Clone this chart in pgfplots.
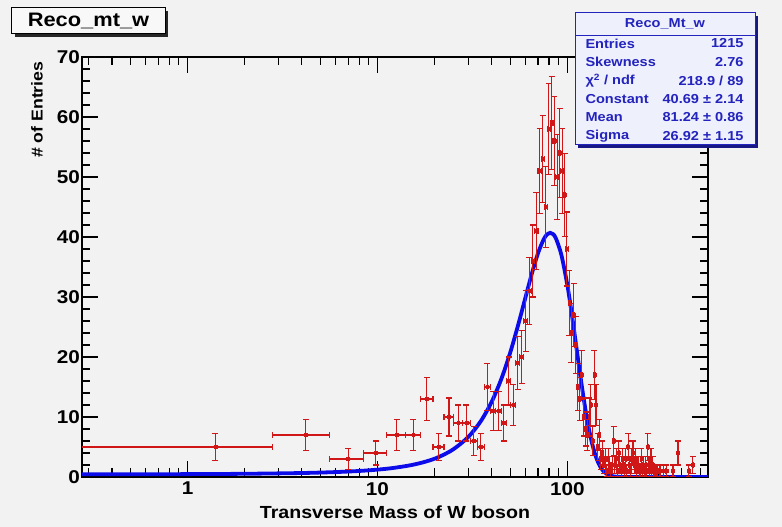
\documentclass[border=0pt]{standalone}
\usepackage{fontspec}
\setmainfont{Liberation Sans}[FakeStretch=1.12]
\usepackage{pgfplots}
\pgfplotsset{compat=1.18}
\usepackage{pgfplotstable}

\definecolor{canvas}{RGB}{242,242,242}
\definecolor{histred}{RGB}{208,22,22}
\definecolor{fitblue}{RGB}{12,12,235}
\definecolor{statblue}{RGB}{35,35,190}
\definecolor{statfill}{RGB}{238,240,252}

% Reco_mt_w: bin centre, content, bin half-widths, sqrt(N) error
\pgfplotstableread{
x y exm exp ey
1.4 5 1.2 1.4 2.236
4.2 7 1.4 1.4 2.646
7.0 3 1.4 1.4 1.732
9.8 4 1.4 1.4 2.000
12.6 7 1.4 1.4 2.646
15.4 7 1.4 1.4 2.646
18.2 13 1.4 1.4 3.606
21.0 5 1.4 1.4 2.236
23.8 10 1.4 1.4 3.162
26.6 9 1.4 1.4 3.000
29.4 9 1.4 1.4 3.000
32.2 6 1.4 1.4 2.449
35.0 5 1.4 1.4 2.236
37.8 15 1.4 1.4 3.873
40.6 11 1.4 1.4 3.317
43.4 11 1.4 1.4 3.317
46.2 9 1.4 1.4 3.000
49.0 16 1.4 1.4 4.000
51.8 12 1.4 1.4 3.464
54.6 19 1.4 1.4 4.359
57.4 20 1.4 1.4 4.472
60.2 26 1.4 1.4 5.099
63.0 31 1.4 1.4 5.568
65.8 36 1.4 1.4 6.000
68.6 41 1.4 1.4 6.403
71.4 51 1.4 1.4 7.141
74.2 53 1.4 1.4 7.280
77.0 45 1.4 1.4 6.708
79.8 58 1.4 1.4 7.616
82.6 59 1.4 1.4 7.681
85.4 56 1.4 1.4 7.483
88.2 50 1.4 1.4 7.071
91.0 54 1.4 1.4 7.348
93.8 51 1.4 1.4 7.141
96.6 47 1.4 1.4 6.856
99.4 38 1.4 1.4 6.164
102.2 29 1.4 1.4 5.385
105.0 24 1.4 1.4 4.899
107.8 27 1.4 1.4 5.196
110.6 22 1.4 1.4 4.690
113.4 15 1.4 1.4 3.873
116.2 13 1.4 1.4 3.606
119.0 17 1.4 1.4 4.123
121.8 10 1.4 1.4 3.162
124.6 8 1.4 1.4 2.828
127.4 7 1.4 1.4 2.646
130.2 10 1.4 1.4 3.162
133.0 12 1.4 1.4 3.464
135.8 6 1.4 1.4 2.449
138.6 17 1.4 1.4 4.123
141.4 12 1.4 1.4 3.464
144.2 5 1.4 1.4 2.236
147.0 7 1.4 1.4 2.646
149.8 3 1.4 1.4 1.732
152.6 4 1.4 1.4 2.000
155.4 2 1.4 1.4 1.414
158.2 3 1.4 1.4 1.732
161.0 1 1.4 1.4 1.000
163.8 3 1.4 1.4 1.732
166.6 2 1.4 1.4 1.414
169.4 1 1.4 1.4 1.000
172.2 2 1.4 1.4 1.414
175.0 6 1.4 1.4 2.449
177.8 2 1.4 1.4 1.414
180.6 3 1.4 1.4 1.732
183.4 1 1.4 1.4 1.000
186.2 4 1.4 1.4 2.000
189.0 2 1.4 1.4 1.414
191.8 1 1.4 1.4 1.000
194.6 3 1.4 1.4 1.732
197.4 2 1.4 1.4 1.414
200.2 1 1.4 1.4 1.000
203.0 3 1.4 1.4 1.732
205.8 1 1.4 1.4 1.000
208.6 5 1.4 1.4 2.236
211.4 2 1.4 1.4 1.414
214.2 1 1.4 1.4 1.000
217.0 3 1.4 1.4 1.732
219.8 4 1.4 1.4 2.000
222.6 4 1.4 1.4 2.000
225.4 2 1.4 1.4 1.414
228.2 3 1.4 1.4 1.732
231.0 1 1.4 1.4 1.000
233.8 2 1.4 1.4 1.414
236.6 2 1.4 1.4 1.414
239.4 1 1.4 1.4 1.000
242.2 1 1.4 1.4 1.000
245.0 3 1.4 1.4 1.732
247.8 1 1.4 1.4 1.000
250.6 2 1.4 1.4 1.414
253.4 1 1.4 1.4 1.000
256.2 1 1.4 1.4 1.000
259.0 2 1.4 1.4 1.414
261.8 1 1.4 1.4 1.000
264.6 5 1.4 1.4 2.236
267.4 2 1.4 1.4 1.414
270.2 1 1.4 1.4 1.000
273.0 3 1.4 1.4 1.732
275.8 3 1.4 1.4 1.732
278.6 1 1.4 1.4 1.000
281.4 2 1.4 1.4 1.414
284.2 1 1.4 1.4 1.000
287.0 1 1.4 1.4 1.000
292.6 1 1.4 1.4 1.000
298.2 1 1.4 1.4 1.000
303.8 1 1.4 1.4 1.000
309.4 1 1.4 1.4 1.000
320.6 1 1.4 1.4 1.000
331.8 1 1.4 1.4 1.000
359.8 1 1.4 1.4 1.000
382.2 4 1.4 1.4 2.000
435.4 1 1.4 1.4 1.000
457.8 2 1.4 1.4 1.414
}\recomt

\begin{document}
\begin{tikzpicture}[x=1bp,y=1bp]
% canvas
\fill[canvas] (-82,-50) rectangle (700,477);

\begin{axis}[
  at={(0,0)}, anchor=south west,
  scale only axis, width=626bp, height=420bp,
  xmode=log, xmin=0.278, xmax=550,
  ymin=0, ymax=70,
  xtick={1,10,100}, xticklabels={1,10,100},
  minor xtick={0.3,0.4,0.5,0.6,0.7,0.8,0.9,2,3,4,5,6,7,8,9,20,30,40,50,60,70,80,90,200,300,400,500},
  ytick={0,10,20,30,40,50,60,70},
  minor y tick num=4,
  tick align=inside,
  major tick length=16bp, minor tick length=8.5bp,
  every tick/.style={black, line width=1.1bp},
  axis line style={line width=1.4bp},
  /pgf/number format/assume math mode=true,
  tick label style={font=\bfseries\fontsize{18.5bp}{20bp}\selectfont},
  yticklabel style={inner sep=2bp},
  xticklabel style={inner sep=5bp},
  clip=true,
]
% fitted Gaussian
\addplot[fitblue, line width=3.8bp, no marks, smooth] coordinates {
 (0.278,0.442) (0.5,0.453) (1,0.479) (2,0.535) (4,0.664) (6,0.819) (8,1.005)
 (10,1.227) (12,1.490) (15,1.971) (18,2.578) (21,3.327) (25,4.590) (30,6.645)
 (35,9.31) (40,12.59) (45,16.44) (50,20.75) (55,25.31) (60,29.81) (65,33.92)
 (70,37.29) (75,39.61) (78,40.40) (81.24,40.69) (84,40.48) (87,39.77) (93,36.99)
 (100,31.92) (105,27.56) (110,22.99) (115,18.53) (120,14.43) (125,10.86)
 (130,7.89) (135,5.54) (140,3.76) (145,2.46) (150,1.56) (155,0.953) (160,0.563)
 (165,0.322) (170,0.177) (180,0.049) (190,0.012) (200,0.002) (250,0) (550,0)
};
% histogram points
\addplot[histred, only marks, mark=square*, mark size=1.4bp,
  error bars/.cd, x dir=both, x explicit, y dir=both, y explicit,
  error bar style={line width=1.1bp, histred},
  error mark options={rotate=90, histred, mark size=3bp, line width=1.1bp}]
  table[x=x, y=y, x error minus=exm, x error plus=exp, y error=ey]{\recomt};
\end{axis}

% title pave
\fill[black!85] (-67,440) rectangle (86,466);
\filldraw[fill=canvas!50!white, draw=black, line width=1bp] (-70,443) rectangle (83,469);
\node[font=\bfseries\fontsize{19.5bp}{21bp}\selectfont] at (6.5,456) {Reco\_mt\_w};

% statistics box
\fill[statblue!70!black] (496,329) rectangle (676,461);
\filldraw[fill=statfill, draw=statblue, line width=1bp] (493,332) rectangle (673,464);
\draw[statblue, line width=0.8bp] (493,442) -- (673,442);
\begin{scope}[every node/.style={statblue, font=\bfseries\fontsize{13bp}{14bp}\selectfont}]
\node at (583,453) {Reco\_Mt\_w};
\node[anchor=west] at (500,433.5) {Entries};
\node[anchor=east] at (665,433.5) {1215};
\node[anchor=west] at (500,415) {Skewness};
\node[anchor=east] at (665,415) {2.76};
\node[anchor=west] at (500,396.5) {χ\textsuperscript{2} / ndf};
\node[anchor=east] at (665,396.5) {218.9 / 89};
\node[anchor=west] at (500,378) {Constant};
\node[anchor=east] at (665,378) {40.69 ± 2.14};
\node[anchor=west] at (500,359.5) {Mean};
\node[anchor=east] at (665,359.5) {81.24 ± 0.86};
\node[anchor=west] at (500,341) {Sigma};
\node[anchor=east] at (665,341) {26.92 ± 1.15};
\end{scope}

% axis titles
\node[font=\bfseries\fontsize{17.5bp}{19bp}\selectfont] at (313,-35) {Transverse Mass of W boson};
\node[rotate=90, anchor=east, font=\bfseries\fontsize{15.8bp}{17bp}\selectfont] at (-45,419) {\# of Entries};
\end{tikzpicture}
\end{document}
